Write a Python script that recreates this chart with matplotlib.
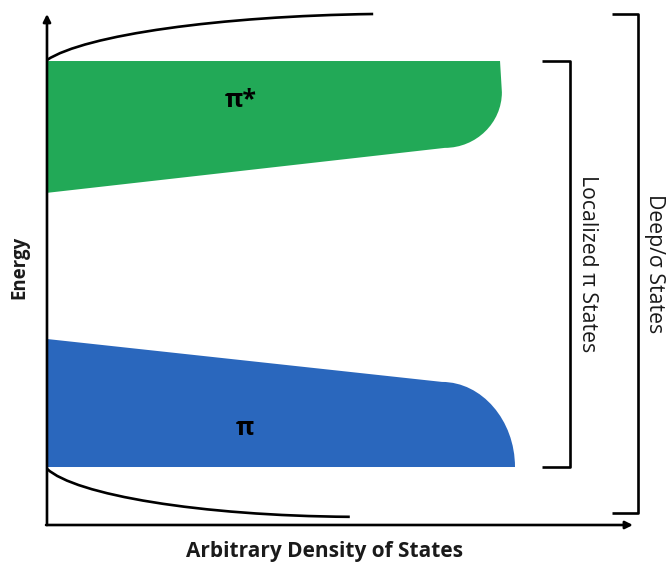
import matplotlib
matplotlib.use("Agg")
import matplotlib.pyplot as plt
from matplotlib.path import Path
from matplotlib.patches import PathPatch

plt.rcParams['font.family'] = ['Open Sans', 'DejaVu Sans']

# --- band outlines (density, energy), arbitrary units ---
# pi* band: flat top, rounded right cap, sloping lower edge
pistar_density = [0.0, 0.968, 0.972, 0.972, 0.917, 0.850, 0.0]
pistar_energy = [0.908, 0.908, 0.847, 0.787, 0.738, 0.738, 0.650]

# pi band: sloping top edge, rounded right cap, flat bottom
pi_density = [0.0, 0.844, 0.929, 1.0, 1.0, 0.0]
pi_energy = [0.364, 0.280, 0.280, 0.205, 0.1135, 0.1135]

# deep / sigma tails above and below the pi bands (bezier control points)
upper_tail_density = [0.0, 0.081, 0.370, 0.697]
upper_tail_energy = [0.910, 0.959, 0.996, 1.0]
lower_tail_density = [0.0, 0.060, 0.327, 0.647]
lower_tail_energy = [0.110, 0.059, 0.018, 0.016]

band_labels = ["π*", "π"]
band_label_density = [0.415, 0.423]
band_label_energy = [0.830, 0.188]

# brackets: (stem density, tick density, energy top, energy bottom)
localized_bracket = [1.118, 1.058, 0.908, 0.1135]
deep_bracket = [1.263, 1.207, 1.0, 0.0235]

GREEN = '#22a957'
BLUE = '#2a67bd'
TEXT = '#1a1a1a'

fig = plt.figure(figsize=(6.70, 5.62), dpi=100)
ax = fig.add_axes([0, 0, 1, 1])
ax.set_xlim(-0.1004, 1.3312)
ax.set_ylim(-0.0724, 1.0274)
ax.axis('off')

# pi* band
verts = list(zip(pistar_density, pistar_energy)) + [(0, 0)]
codes = [Path.MOVETO, Path.LINETO, Path.LINETO,
         Path.CURVE4, Path.CURVE4, Path.CURVE4,
         Path.LINETO, Path.CLOSEPOLY]
ax.add_patch(PathPatch(Path(verts, codes), facecolor=GREEN, edgecolor='none'))

# pi band
verts = list(zip(pi_density, pi_energy)) + [(0, 0)]
codes = [Path.MOVETO, Path.LINETO,
         Path.CURVE4, Path.CURVE4, Path.CURVE4,
         Path.LINETO, Path.CLOSEPOLY]
ax.add_patch(PathPatch(Path(verts, codes), facecolor=BLUE, edgecolor='none'))

# tails
for dens, en in [(upper_tail_density, upper_tail_energy),
                 (lower_tail_density, lower_tail_energy)]:
    p = Path(list(zip(dens, en)),
             [Path.MOVETO, Path.CURVE4, Path.CURVE4, Path.CURVE4])
    ax.add_patch(PathPatch(p, facecolor='none', edgecolor='black', lw=1.9,
                           capstyle='butt'))

# axes arrows
arrow = dict(arrowstyle='-|>', lw=1.9, color='black', mutation_scale=11,
             shrinkA=0, shrinkB=0)
ax.annotate('', xy=(0, 1.0), xytext=(0, 0), arrowprops=arrow)
ax.annotate('', xy=(1.252, 0), xytext=(-0.002, 0), arrowprops=arrow)

# brackets
for stem, tick, top, bot in [localized_bracket, deep_bracket]:
    ax.plot([tick, stem, stem, tick], [top, top, bot, bot], color='black',
            lw=1.9, solid_joinstyle='round', solid_capstyle='butt')

for lab, d, e in zip(band_labels, band_label_density, band_label_energy):
    ax.text(d, e, lab, ha='center', va='center', fontsize=18,
            fontweight='bold', color='black')

ax.text(1.154, 0.511, 'Localized π States', rotation=-90, ha='center',
        va='center', fontsize=15.3, fontweight='medium', color=TEXT)
ax.text(1.299, 0.511, 'Deep/σ States', rotation=-90, ha='center',
        va='center', fontsize=15.3, fontweight='medium', color=TEXT)
ax.text(-0.058, 0.505, 'Energy', rotation=90, ha='center', va='center',
        fontsize=13.4, fontweight='bold', color=TEXT)
ax.text(0.592, -0.051, 'Arbitrary Density of States', ha='center',
        va='center', fontsize=15, fontweight='bold', color=TEXT)

fig.savefig('out.png', dpi=100)
